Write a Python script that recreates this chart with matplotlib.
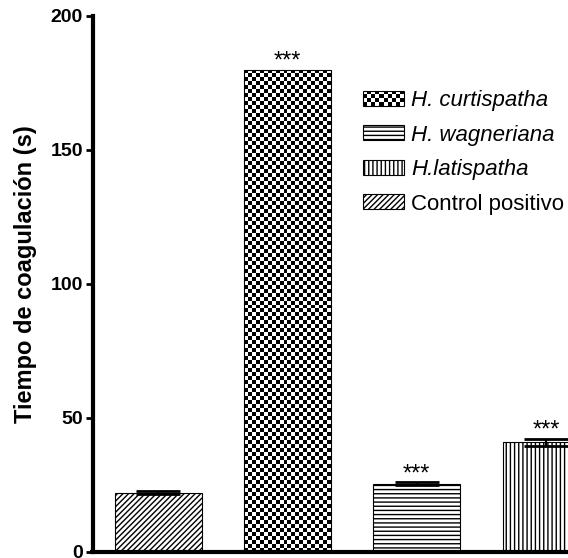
import matplotlib.pyplot as plt
import numpy as np
from matplotlib.patches import Patch, Rectangle
from matplotlib.legend_handler import HandlerBase

# datos
grupos = ['Control positivo', 'H. curtispatha', 'H. wagneriana', 'H.latispatha']
tiempos = [22.1, 180.0, 25.5, 40.9]
errores = [0.5, 0.0, 0.6, 1.4]
marcas = ['', '***', '***', '***']
orden_leyenda = [1, 2, 3, 0]
y_ticks = [0, 50, 100, 150, 200]

tramas = ['//////', None, '----', '||||']

plt.rcParams['font.family'] = ['Liberation Sans', 'DejaVu Sans']
plt.rcParams['hatch.linewidth'] = 1.0


class HandlerChecker(HandlerBase):
    """Cuadro de leyenda con patrón de tablero de ajedrez."""
    def create_artists(self, legend, orig_handle, xdescent, ydescent,
                       width, height, fontsize, trans):
        arts = []
        nx, ny = 10, 4
        cw, ch = width / nx, height / ny
        for i in range(nx):
            for j in range(ny):
                if (i + j) % 2 == 0:
                    arts.append(Rectangle((-xdescent + i * cw, -ydescent + j * ch), cw, ch,
                                          facecolor='black', edgecolor='none', transform=trans))
        arts.append(Rectangle((-xdescent, -ydescent), width, height, facecolor='none',
                              edgecolor='black', lw=0.8, transform=trans))
        return arts


fig = plt.figure(figsize=(5.68, 5.58), dpi=100)
ax = fig.add_axes([92.5 / 568, 6 / 558, 0.935, 536 / 558])

x = np.arange(len(grupos))
ancho = 0.673
bars = ax.bar(x, tiempos, ancho, color='white', edgecolor='black', linewidth=0.8, zorder=2)
for b, t in zip(bars, tramas):
    if t:
        b.set_hatch(t)

ax.set_xlim(-0.51, 3.6)
ax.set_ylim(0, 200)

# tablero de ajedrez para H. curtispatha
b = bars[1]
x0, w, h = b.get_x(), b.get_width(), b.get_height()
p0 = ax.transData.transform((x0, 0))
p1 = ax.transData.transform((x0 + w, h))
ncols = int(round((p1[0] - p0[0]) / 4))
nrows = int(round((p1[1] - p0[1]) / 4))
tablero = np.indices((nrows, ncols)).sum(0) % 2
b.set_facecolor('none')
b.set_zorder(3)
img = ax.imshow(tablero, cmap='gray', vmin=0, vmax=1, extent=(x0, x0 + w, 0, h),
                aspect='auto', interpolation='nearest', zorder=2)
img.set_clip_path(b)
ax.set_xlim(-0.51, 3.6)
ax.set_ylim(0, 200)

for i in range(len(grupos)):
    if errores[i] > 0:
        ax.errorbar(x[i], tiempos[i], yerr=errores[i], fmt='none', ecolor='black',
                    elinewidth=1.5, capsize=16, capthick=2, zorder=4)
    if marcas[i]:
        ax.text(x[i], tiempos[i] + errores[i] + 0.6, marcas[i], ha='center', va='baseline',
                fontsize=17)

ax.spines['top'].set_visible(False)
ax.spines['right'].set_visible(False)
ax.spines['left'].set_linewidth(3)
ax.spines['bottom'].set_linewidth(3)
ax.set_xticks([])
ax.set_yticks(y_ticks)
ax.tick_params(axis='y', length=5, width=2, pad=2, labelsize=14)
for lab in ax.get_yticklabels():
    lab.set_fontweight('bold')

ax.set_ylabel('Tiempo de coagulación (s)', fontsize=17, fontweight='bold')
ax.yaxis.set_label_coords(37 / 568, 0.509, transform=fig.transFigure)

# leyenda
handles = []
hmap = {}
for i in orden_leyenda:
    p = Patch(facecolor='white', edgecolor='black', lw=0.8, hatch=tramas[i])
    handles.append(p)
    if i == 1:
        hmap[p] = HandlerChecker()
leg = ax.legend(handles, [grupos[i] for i in orden_leyenda], handler_map=hmap,
                loc='upper left', bbox_to_anchor=(363 / 568, 1 - 90 / 558),
                bbox_transform=fig.transFigure, frameon=False, fontsize=16,
                handlelength=1.85, handleheight=0.66, handletextpad=0.32,
                labelspacing=0.61, borderpad=0, borderaxespad=0)
for t, i in zip(leg.get_texts(), orden_leyenda):
    if grupos[i].startswith('H.'):
        t.set_style('italic')

fig.savefig('out.png', dpi=100)
